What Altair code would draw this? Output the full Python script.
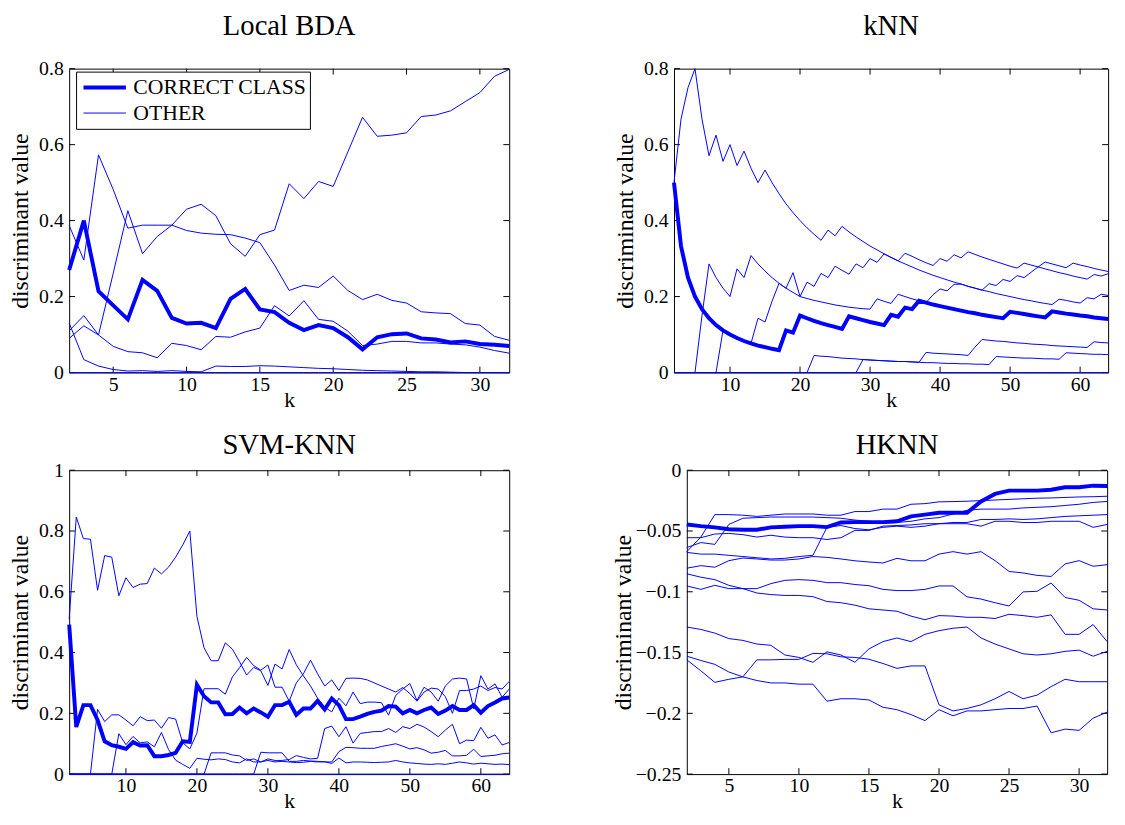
import altair as alt
import pandas as pd

FONT = "Liberation Serif"
BLUE = "#0000ff"

K32 = list(range(2, 33))
K64 = list(range(2, 65))

# ---------------- Local BDA (k = 2..32)
LB_CORRECT = [0.27, 0.40, 0.214, 0.177, 0.14, 0.244, 0.215, 0.144, 0.129, 0.131,
              0.117, 0.194, 0.22, 0.166, 0.159, 0.131, 0.112, 0.125, 0.117, 0.093,
              0.061, 0.093, 0.101, 0.103, 0.09, 0.087, 0.079, 0.082, 0.075, 0.073, 0.07]
LB_O1 = [0.11, 0.15, 0.099, 0.261, 0.426, 0.313, 0.358, 0.388, 0.43, 0.443,
         0.413, 0.339, 0.306, 0.363, 0.375, 0.497, 0.458, 0.503, 0.49, 0.581,
         0.672, 0.622, 0.625, 0.631, 0.674, 0.678, 0.689, 0.713, 0.737, 0.78, 0.798]
LB_O2 = [0.387, 0.296, 0.573, 0.482, 0.38, 0.388, 0.388, 0.388, 0.374, 0.367,
         0.364, 0.363, 0.354, 0.342, 0.283, 0.216, 0.23, 0.224, 0.254, 0.216,
         0.192, 0.206, 0.19, 0.183, 0.16, 0.157, 0.155, 0.129, 0.125, 0.095, 0.085]
LB_O3 = [0.09, 0.123, 0.099, 0.069, 0.055, 0.052, 0.039, 0.077, 0.071, 0.06,
         0.095, 0.093, 0.107, 0.117, 0.176, 0.149, 0.189, 0.14, 0.135, 0.109,
         0.071, 0.075, 0.082, 0.082, 0.078, 0.078, 0.075, 0.073, 0.067, 0.058, 0.051]
LB_O4 = [0.13, 0.034, 0.017, 0.008, 0.004, 0.005, 0.003, 0.005, 0.003, 0.002,
         0.017, 0.016, 0.016, 0.018, 0.017, 0.015, 0.013, 0.011, 0.01, 0.008,
         0.006, 0.005, 0.004, 0.003, 0.002, 0.002, 0.001, 0, 0, 0, 0]
LB_O5 = [0] * 31

# ---------------- kNN (k = 2..64)
KN_CORRECT = [0.5, 0.333, 0.25, 0.2, 0.167, 0.143, 0.125, 0.111, 0.1, 0.091, 0.083, 0.077, 0.071, 0.067, 0.0625, 0.059,
              0.111, 0.105, 0.15, 0.143, 0.136, 0.13, 0.125, 0.12, 0.115,
              0.148, 0.143, 0.138, 0.133, 0.129, 0.125,
              0.152, 0.147, 0.171, 0.167,
              0.189, 0.184, 0.179, 0.175, 0.171, 0.167, 0.163, 0.159, 0.156, 0.152, 0.149, 0.146, 0.143,
              0.16, 0.157, 0.154, 0.151, 0.148, 0.145,
              0.161, 0.158, 0.155, 0.153, 0.15, 0.148, 0.145, 0.143, 0.141]
KN_O1 = [0.5, 0.667, 0.75, 0.8, 0.667, 0.571, 0.625, 0.556, 0.6, 0.545, 0.583, 0.538, 0.5, 0.533,
         0.5, 0.471, 0.444, 0.421, 0.4, 0.381, 0.364, 0.348,
         0.375, 0.36, 0.385,
         0.37, 0.357, 0.345, 0.333, 0.323, 0.3125,
         0.303, 0.294, 0.286, 0.278, 0.27, 0.263, 0.256, 0.25, 0.244, 0.238, 0.233, 0.227,
         0.222, 0.217, 0.213, 0.208, 0.204, 0.2, 0.196, 0.192, 0.189, 0.185, 0.182, 0.179,
         0.193, 0.19, 0.186, 0.183, 0.197, 0.194, 0.206, 0.203]
KN_O2 = [0, 0, 0, 0,
         0.15, 0.286, 0.25, 0.222, 0.2, 0.273, 0.25, 0.308,
         0.286, 0.267, 0.25, 0.235, 0.222, 0.263, 0.2,
         0.238, 0.227, 0.261, 0.25, 0.28, 0.269, 0.259, 0.286, 0.276, 0.3, 0.29, 0.3125,
         0.303, 0.294, 0.314, 0.306, 0.297, 0.289, 0.282, 0.3, 0.293, 0.31, 0.302, 0.318,
         0.311, 0.304, 0.298, 0.292, 0.286, 0.28, 0.275,
         0.288, 0.283, 0.278, 0.273, 0.268, 0.263, 0.259, 0.254, 0.25, 0.246, 0.258, 0.254, 0.26]
KN_O3 = [0, 0, 0, 0, 0, 0, 0,
         0.111, 0.1, 0.091, 0.083, 0.077,
         0.143, 0.133, 0.1875, 0.235, 0.222, 0.211, 0.2,
         0.195, 0.19, 0.186, 0.182, 0.178, 0.175, 0.172, 0.17, 0.168, 0.167,
         0.194, 0.1875, 0.182, 0.206, 0.2, 0.194, 0.189, 0.184, 0.205, 0.22, 0.215, 0.232,
         0.233, 0.227, 0.222, 0.217, 0.234, 0.229, 0.245, 0.24, 0.255, 0.25,
         0.264, 0.278, 0.291, 0.286, 0.281, 0.276, 0.288, 0.283, 0.279, 0.274, 0.27, 0.266]
KN_O4 = [0] * 20 + [0.045, 0.043, 0.042, 0.04, 0.038, 0.037, 0.036, 0.034, 0.033, 0.032, 0.031, 0.03,
                    0.029, 0.029, 0.028, 0.027,
                    0.053, 0.051, 0.05, 0.049, 0.048, 0.047, 0.045,
                    0.067,
                    0.087, 0.085, 0.083, 0.082, 0.08, 0.078, 0.077, 0.075, 0.074, 0.073, 0.071, 0.07,
                    0.069, 0.068, 0.067, 0.066,
                    0.081, 0.079, 0.078]
KN_O5 = [0] * 27 + [0.0345, 0.033, 0.032, 0.031, 0.03, 0.029, 0.029, 0.028, 0.027, 0.026, 0.026, 0.025,
                    0.024, 0.024, 0.023, 0.023, 0.022, 0.022, 0.021,
                    0.042, 0.041, 0.04, 0.039, 0.038, 0.038, 0.037, 0.036, 0.036, 0.035,
                    0.052, 0.051, 0.05, 0.049, 0.048, 0.048, 0.047]
KN_O6 = [0] * 63

# ---------------- SVM-KNN (k = 2..64)
SV_CORRECT = [0.492, 0.155, 0.227, 0.227, 0.178, 0.108, 0.095, 0.09, 0.083, 0.105,
              0.094, 0.095, 0.059, 0.059, 0.063, 0.07, 0.108, 0.106, 0.294, 0.256,
              0.236, 0.236, 0.197, 0.198, 0.219, 0.2, 0.216, 0.203, 0.189, 0.227, 0.227,
              0.238, 0.195, 0.216, 0.216, 0.241, 0.213, 0.249, 0.227, 0.181, 0.181,
              0.189, 0.198, 0.205, 0.209, 0.224, 0.222, 0.2, 0.211, 0.2, 0.211,
              0.219, 0.198, 0.209, 0.224, 0.211, 0.211, 0.227, 0.202, 0.224, 0.236, 0.249, 0.252]
SV_O1 = [0.51, 0.846, 0.775, 0.773, 0.605, 0.719, 0.714, 0.587, 0.646, 0.614,
         0.625, 0.627, 0.678, 0.659, 0.681, 0.714, 0.754, 0.8, 0.519, 0.416,
         0.373, 0.373, 0.432, 0.411, 0.37, 0.326, 0.351, 0.34, 0.292, 0.362, 0.346,
         0.41, 0.36, 0.323, 0.29, 0.25, 0.22, 0.205, 0.25, 0.225, 0.27,
         0.232, 0.237, 0.237, 0.235, 0.194, 0.259, 0.28, 0.298, 0.242, 0.286,
         0.27, 0.24, 0.29, 0.313, 0.316, 0.313, 0.215, 0.324, 0.28, 0.297, 0.253, 0.28]
SV_O2 = [0, 0, 0, 0, 0.213, 0.173, 0.195, 0.195, 0.178, 0.159,
         0.189, 0.176, 0.178, 0.151, 0.186, 0.181, 0.103, 0.083, 0.135, 0.281,
         0.281, 0.281, 0.263, 0.32, 0.35, 0.384, 0.357, 0.342, 0.359, 0.286, 0.286,
         0.24, 0.3, 0.33, 0.375, 0.33, 0.29, 0.31, 0.275, 0.315, 0.316,
         0.315, 0.31, 0.3, 0.29, 0.28, 0.27, 0.285, 0.265, 0.24, 0.27,
         0.283, 0.28, 0.255, 0.2, 0.275, 0.275, 0.28, 0.29, 0.275, 0.285, 0.28, 0.305]
SV_O3 = [0] * 7 + [0.133, 0.097, 0.124, 0.103, 0.106, 0.09, 0.137, 0.081, 0.046, 0.032,
                   0.019, 0.052, 0.049, 0.047, 0.05, 0.048, 0.04, 0.037, 0.05, 0.04,
                   0.04, 0.045, 0.04, 0.042, 0.04, 0.038, 0.039, 0.042, 0.04, 0.041,
                   0.035, 0.053, 0.037, 0.04, 0.04, 0.039, 0.038, 0.039, 0.04, 0.045,
                   0.04, 0.037, 0.035, 0.033, 0.032, 0.034, 0.032, 0.036, 0.04, 0.037,
                   0.033, 0.036, 0.034, 0.032, 0.033, 0.031]
SV_O4 = [0] * 20 + [0.07, 0.07, 0.07, 0.063, 0.06, 0.045, 0.05, 0.04, 0.05, 0.045,
                    0.045, 0.048, 0.061, 0.055, 0.05, 0.052, 0.15, 0.158, 0.123, 0.156,
                    0.102, 0.134, 0.137, 0.14, 0.14, 0.15, 0.137, 0.156, 0.15, 0.164,
                    0.155, 0.14, 0.123, 0.145, 0.164, 0.1, 0.112, 0.11, 0.154, 0.118,
                    0.129, 0.096, 0.104]
SV_O5 = [0] * 27 + [0.072, 0.07, 0.07, 0.07, 0.042, 0.042, 0.045, 0.043, 0.042, 0.04,
                    0.04, 0.074, 0.088, 0.087, 0.085, 0.085, 0.085, 0.091, 0.095, 0.1,
                    0.092, 0.083, 0.087, 0.08, 0.069, 0.072, 0.078, 0.06, 0.06, 0.062,
                    0.082, 0.058, 0.06, 0.062, 0.067, 0.069]
SV_O6 = [0] * 63

# ---------------- HKNN (k = 2..32)
HK_CORRECT = [-0.0446, -0.046, -0.047, -0.0486, -0.049, -0.049, -0.047, -0.0465, -0.046, -0.046,
              -0.0468, -0.043, -0.0427, -0.0427, -0.0427, -0.042, -0.038, -0.0365, -0.035, -0.035,
              -0.035, -0.0257, -0.0195, -0.0168, -0.0168, -0.0168, -0.016, -0.014, -0.014, -0.0127, -0.013]
HK_O1 = [-0.067, -0.055, -0.0365, -0.0365, -0.037, -0.038, -0.037, -0.036, -0.036, -0.036,
         -0.037, -0.037, -0.034, -0.034, -0.032, -0.032, -0.028, -0.0275, -0.026, -0.0258,
         -0.0255, -0.025, -0.0245, -0.024, -0.0235, -0.023, -0.0228, -0.0224, -0.022, -0.0218, -0.0214]
HK_O2 = [-0.0636, -0.0595, -0.061, -0.0446, -0.0395, -0.039, -0.0385, -0.0385, -0.0385, -0.0385,
         -0.039, -0.0395, -0.041, -0.042, -0.0435, -0.043, -0.042, -0.04, -0.039, -0.036,
         -0.033, -0.032, -0.032, -0.032, -0.031, -0.0305, -0.03, -0.029, -0.028, -0.0265, -0.0257]
HK_O3 = [-0.0676, -0.069, -0.069, -0.070, -0.071, -0.072, -0.073, -0.0725, -0.071, -0.070,
         -0.047, -0.0455, -0.048, -0.049, -0.047, -0.046, -0.047, -0.046, -0.044, -0.044,
         -0.044, -0.046, -0.042, -0.042, -0.043, -0.043, -0.042, -0.042, -0.042, -0.047, -0.0446]
HK_O4 = [-0.0555, -0.0555, -0.0525, -0.052, -0.053, -0.055, -0.0535, -0.055, -0.0555, -0.0555,
         -0.057, -0.0555, -0.0495, -0.0495, -0.046, -0.0455, -0.045, -0.044, -0.044, -0.043,
         -0.043, -0.0405, -0.0405, -0.040, -0.0405, -0.040, -0.039, -0.038, -0.0375, -0.037, -0.0365]
HK_O5 = [-0.0806, -0.0785, -0.0798, -0.0744, -0.0722, -0.073, -0.0739, -0.0739, -0.073, -0.071,
         -0.0717, -0.073, -0.0745, -0.0755, -0.0763, -0.0725, -0.0745, -0.0745, -0.069, -0.067,
         -0.069, -0.067, -0.0744, -0.0833, -0.0845, -0.0865, -0.0874, -0.0771, -0.0744, -0.079, -0.0777]
HK_O6 = [-0.0852, -0.088, -0.090, -0.0947, -0.0974, -0.101, -0.1023, -0.103, -0.103, -0.104,
         -0.108, -0.109, -0.111, -0.114, -0.115, -0.116, -0.12, -0.123, -0.1196, -0.12,
         -0.121, -0.121, -0.122, -0.1185, -0.1196, -0.121, -0.119, -0.135, -0.135, -0.127, -0.141]
HK_O7 = [-0.0952, -0.098, -0.0947, -0.0974, -0.0974, -0.0974, -0.0933, -0.0906, -0.090, -0.0906,
         -0.0925, -0.0925, -0.094, -0.095, -0.098, -0.099, -0.099, -0.098, -0.0952, -0.0952,
         -0.1042, -0.106, -0.109, -0.1117, -0.1001, -0.0996, -0.0928, -0.1047, -0.107, -0.114, -0.115]
HK_O8 = [-0.129, -0.131, -0.134, -0.1385, -0.14, -0.143, -0.144, -0.152, -0.154, -0.158,
         -0.1494, -0.152, -0.158, -0.147, -0.141, -0.138, -0.141, -0.135, -0.132, -0.13,
         -0.129, -0.138, -0.143, -0.147, -0.151, -0.152, -0.151, -0.149, -0.148, -0.153, -0.149]
HK_O9 = [-0.153, -0.1565, -0.1597, -0.166, -0.170, -0.173, -0.175, -0.175, -0.176, -0.176,
         -0.19, -0.188, -0.188, -0.189, -0.195, -0.197, -0.201, -0.206, -0.197, -0.202,
         -0.198, -0.198, -0.197, -0.196, -0.196, -0.194, -0.216, -0.213, -0.214, -0.204, -0.199]
HK_O10 = [-0.156, -0.165, -0.1745, -0.172, -0.170, -0.156, -0.156, -0.1556, -0.1556, -0.1507,
          -0.151, -0.1535, -0.154, -0.1555, -0.159, -0.163, -0.161, -0.161, -0.193, -0.198,
          -0.196, -0.193, -0.188, -0.182, -0.188, -0.185, -0.178, -0.172, -0.174, -0.174, -0.174]

LEGEND_LABELS = ["CORRECT CLASS", "OTHER"]
TITLES = ["Local BDA", "kNN", "SVM-KNN", "HKNN"]
Y_TITLE = "discriminant value"
X_TITLE = "k"


def long_df(ks, series, cls):
    rows = []
    for name, vals in series.items():
        assert len(vals) == len(ks), (name, len(vals))
        for k, v in zip(ks, vals):
            rows.append({"k": k, "v": v, "s": name, "cls": cls})
    return pd.DataFrame(rows)


H = 308


def panel(ks, correct, others, xdom, ydom, xticks, yticks, title, width,
          ytitle_pad, title_offset, title_dy, legend=False):
    thin_df = long_df(ks, others, LEGEND_LABELS[1])
    thick_df = long_df(ks, {"correct": correct}, LEGEND_LABELS[0])
    x = alt.X("k:Q", scale=alt.Scale(domain=xdom, nice=False, zero=False),
              axis=alt.Axis(values=xticks, title=X_TITLE, format="~r",
                            labelFont=FONT, titleFont=FONT,
                            labelFontSize=20, titleFontSize=22,
                            labelPadding=2, titlePadding=-5))
    y = alt.Y("v:Q", scale=alt.Scale(domain=ydom, nice=False, zero=False),
              axis=alt.Axis(values=yticks, title=Y_TITLE, format="~r",
                            labelFont=FONT, titleFont=FONT,
                            labelFontSize=20, titleFontSize=24,
                            labelPadding=6, titlePadding=ytitle_pad))
    if legend:
        leg = alt.Legend(orient="none", legendX=7, legendY=3, title=None,
                         fillColor="white", strokeColor="black", padding=3,
                         symbolType="stroke", symbolSize=1850, symbolOffset=2,
                         labelFont=FONT, labelFontSize=22, labelColor="black",
                         labelOffset=5, clipHeight=26, rowPadding=0,
                         labelLimit=400, cornerRadius=0)
        color = alt.Color("cls:N", scale=alt.Scale(domain=LEGEND_LABELS, range=[BLUE, BLUE]), legend=leg)
        sw = alt.StrokeWidth("cls:N", scale=alt.Scale(domain=LEGEND_LABELS, range=[4, 1]), legend=leg)
        thin = alt.Chart(thin_df).mark_line().encode(
            x=x, y=y, detail="s:N", order="k:Q", color=color, strokeWidth=sw)
        thick = alt.Chart(thick_df).mark_line().encode(
            x=x, y=y, detail="s:N", order="k:Q", color=color, strokeWidth=sw)
    else:
        thin = alt.Chart(thin_df).mark_line(color=BLUE, strokeWidth=1).encode(
            x=x, y=y, detail="s:N", order="k:Q")
        thick = alt.Chart(thick_df).mark_line(color=BLUE, strokeWidth=4).encode(
            x=x, y=y, detail="s:N", order="k:Q")

    xt = pd.DataFrame({"k": xticks})
    yt = pd.DataFrame({"v": yticks})
    tb = alt.Chart(xt).mark_rule(color="black", strokeWidth=1).encode(
        x=x, y=alt.value(H), y2=alt.value(H - 6))
    tt = alt.Chart(xt).mark_rule(color="black", strokeWidth=1).encode(
        x=x, y=alt.value(0), y2=alt.value(6))
    tl = alt.Chart(yt).mark_rule(color="black", strokeWidth=1).encode(
        y=y, x=alt.value(0), x2=alt.value(6))
    tr = alt.Chart(yt).mark_rule(color="black", strokeWidth=1).encode(
        y=y, x=alt.value(width), x2=alt.value(width - 6))

    return alt.layer(tb, tt, tl, tr, thin, thick).properties(
        width=width, height=H,
        title=alt.TitleParams(title, font=FONT, fontSize=29, fontWeight="normal",
                              color="black", offset=title_offset, dy=title_dy,
                              anchor="middle"))


p1 = panel(K32, LB_CORRECT,
           {"o1": LB_O1, "o2": LB_O2, "o3": LB_O3, "o4": LB_O4, "o5": LB_O5},
           [2, 32], [0, 0.8], [5, 10, 15, 20, 25, 30], [0, 0.2, 0.4, 0.6, 0.8],
           TITLES[0], 446, 6, 10, -8, legend=True)
p2 = panel(K64, KN_CORRECT,
           {"o1": KN_O1, "o2": KN_O2, "o3": KN_O3, "o4": KN_O4, "o5": KN_O5, "o6": KN_O6},
           [2, 64], [0, 0.8], [10, 20, 30, 40, 50, 60], [0, 0.2, 0.4, 0.6, 0.8],
           TITLES[1], 440, 6, 10, -8)
p3 = panel(K64, SV_CORRECT,
           {"o1": SV_O1, "o2": SV_O2, "o3": SV_O3, "o4": SV_O4, "o5": SV_O5, "o6": SV_O6},
           [2, 64], [0, 1], [10, 20, 30, 40, 50, 60], [0, 0.2, 0.4, 0.6, 0.8, 1],
           TITLES[2], 446, 6, 0, 0)
p4 = panel(K32, HK_CORRECT,
           {"o1": HK_O1, "o2": HK_O2, "o3": HK_O3, "o4": HK_O4, "o5": HK_O5,
            "o6": HK_O6, "o7": HK_O7, "o8": HK_O8, "o9": HK_O9, "o10": HK_O10},
           [2, 32], [-0.25, 0], [5, 10, 15, 20, 25, 30], [-0.25, -0.2, -0.15, -0.1, -0.05, 0],
           TITLES[3], 426, 0, 0, 0)

row1 = alt.hconcat(p1, p2, spacing=96).resolve_scale(
    color="independent", strokeWidth="independent").resolve_legend(
    color="independent", strokeWidth="independent")
row2 = alt.hconcat(p3, p4, spacing=94)

chart = alt.vconcat(row1, row2, spacing=20).resolve_scale(
    color="independent", strokeWidth="independent").resolve_legend(
    color="independent", strokeWidth="independent").properties(
    padding={"left": 0, "top": -2, "right": 0, "bottom": 0},
    background="white"
).configure_view(stroke="black", strokeWidth=1).configure_axis(
    domain=False, ticks=False, grid=False,
    labelFont=FONT, labelFontSize=20, labelColor="black",
    titleFont=FONT, titleFontSize=24, titleFontWeight="normal", titleColor="black"
)

chart.save("out.html", embed_options={"renderer": "svg", "actions": False})
